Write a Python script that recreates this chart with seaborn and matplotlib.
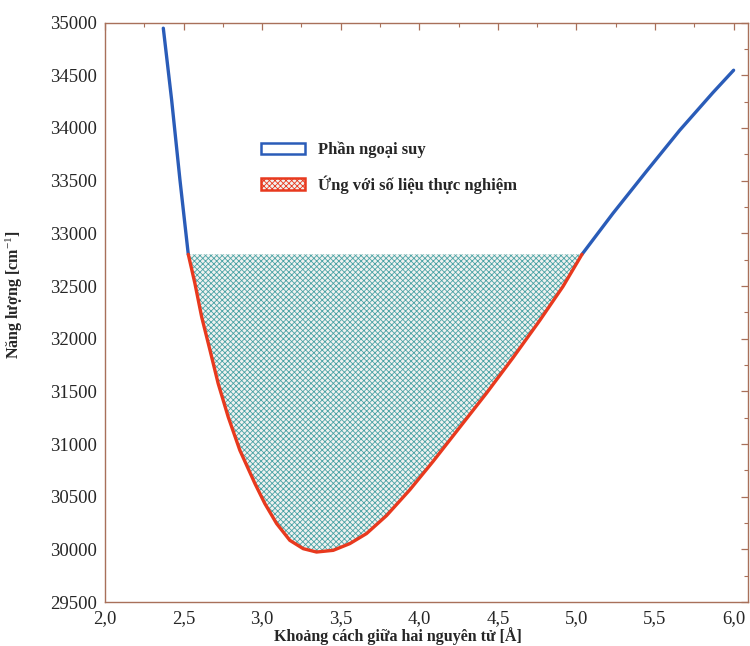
import numpy as np
import pandas as pd
import matplotlib
matplotlib.use("Agg")
import matplotlib.pyplot as plt
import seaborn as sns
from matplotlib.patches import Patch
from matplotlib.ticker import MultipleLocator, FixedLocator, FixedFormatter

# ---- data ----
left_x = [2.371, 2.424, 2.477, 2.530]
left_y = [34947, 34266, 33506, 32800]

red_x = [2.530, 2.572, 2.615, 2.668, 2.720, 2.784, 2.858, 2.954, 3.017, 3.092,
         3.176, 3.261, 3.346, 3.452, 3.558, 3.664, 3.791, 3.940, 4.088, 4.258,
         4.427, 4.597, 4.766, 4.914, 5.035]
red_y = [32800, 32525, 32207, 31891, 31575, 31257, 30941, 30625, 30435, 30245,
         30086, 30007, 29975, 29991, 30055, 30150, 30320, 30566, 30836, 31160,
         31482, 31821, 32172, 32495, 32800]

right_x = [5.035, 5.232, 5.445, 5.657, 5.868, 6.000]
right_y = [32800, 33189, 33588, 33978, 34335, 34548]

cut_level = 32800

x_ticks = [2.0, 2.5, 3.0, 3.5, 4.0, 4.5, 5.0, 5.5, 6.0]
x_tick_labels = ["2,0", "2,5", "3,0", "3,5", "4,0", "4,5", "5,0", "5,5", "6,0"]
y_ticks = [29500, 30000, 30500, 31000, 31500, 32000, 32500, 33000, 33500, 34000, 34500, 35000]

legend_labels = ["Phần ngoại suy", "Ứng với số liệu thực nghiệm"]
xlabel = "Khoảng cách giữa hai nguyên tử [Å]"
ylabel = "Năng lượng [cm$^{-1}$]"

# ---- style ----
sns.set_style("white")
plt.rcParams['font.family'] = ['Liberation Serif', 'DejaVu Serif']
plt.rcParams['mathtext.fontset'] = 'custom'
plt.rcParams['mathtext.rm'] = 'Liberation Serif'
plt.rcParams['mathtext.it'] = 'Liberation Serif'
plt.rcParams['hatch.linewidth'] = 0.6
plt.rcParams['hatch.color'] = '#4aa3a5'

blue = '#2a5cb8'
red = '#e8391e'
spine_col = '#a8705a'
fill_face = '#f0f2f0'

fig = plt.figure(figsize=(7.5, 6.46), dpi=100)
ax = fig.add_axes([0.140, 0.068, 0.857, 0.897])

# hatched region
ax.fill_between(red_x, red_y, cut_level, facecolor=fill_face, edgecolor='#4aa3a5',
                hatch='xxxxxx', linewidth=0, zorder=1)

df_l = pd.DataFrame({'x': left_x, 'y': left_y})
df_r = pd.DataFrame({'x': right_x, 'y': right_y})
df_m = pd.DataFrame({'x': red_x, 'y': red_y})
sns.lineplot(data=df_l, x='x', y='y', color=blue, lw=2.4, sort=False, estimator=None, ax=ax, zorder=3)
sns.lineplot(data=df_r, x='x', y='y', color=blue, lw=2.4, sort=False, estimator=None, ax=ax, zorder=3)
sns.lineplot(data=df_m, x='x', y='y', color=red, lw=2.4, sort=False, estimator=None, ax=ax, zorder=3)

ax.set_xlim(2.0, 6.09)
ax.set_ylim(29500, 35000)

ax.xaxis.set_major_locator(FixedLocator(x_ticks))
ax.xaxis.set_major_formatter(FixedFormatter(x_tick_labels))
ax.xaxis.set_minor_locator(MultipleLocator(0.25))
ax.yaxis.set_major_locator(FixedLocator(y_ticks))
ax.yaxis.set_minor_locator(MultipleLocator(250))

ax.tick_params(which='both', direction='in', top=True, right=True, color=spine_col)
ax.tick_params(which='major', length=5, width=0.9, labelsize=13.5, pad=6)
ax.tick_params(which='minor', length=3, width=0.8)
for s in ax.spines.values():
    s.set_color(spine_col)
    s.set_linewidth(1.0)

ax.set_xlabel(xlabel, fontsize=11.5, fontweight='bold')
ax.xaxis.set_label_coords(0.455, -0.044)
ax.set_ylabel(ylabel, fontsize=11.5, fontweight='bold')
ax.yaxis.set_label_coords(-0.125, 0.53)

handles = [Patch(facecolor='white', edgecolor=blue, linewidth=1.8),
           Patch(facecolor=fill_face, edgecolor=red, hatch='xxxxxx', linewidth=1.8)]
leg = ax.legend(handles, legend_labels, loc='upper left', bbox_to_anchor=(0.22, 0.82),
                frameon=False, fontsize=12, handlelength=2.6, handleheight=0.7,
                labelspacing=1.0, handletextpad=0.8)
for t in leg.get_texts():
    t.set_fontweight('bold')

fig.savefig('out.png', dpi=100)
